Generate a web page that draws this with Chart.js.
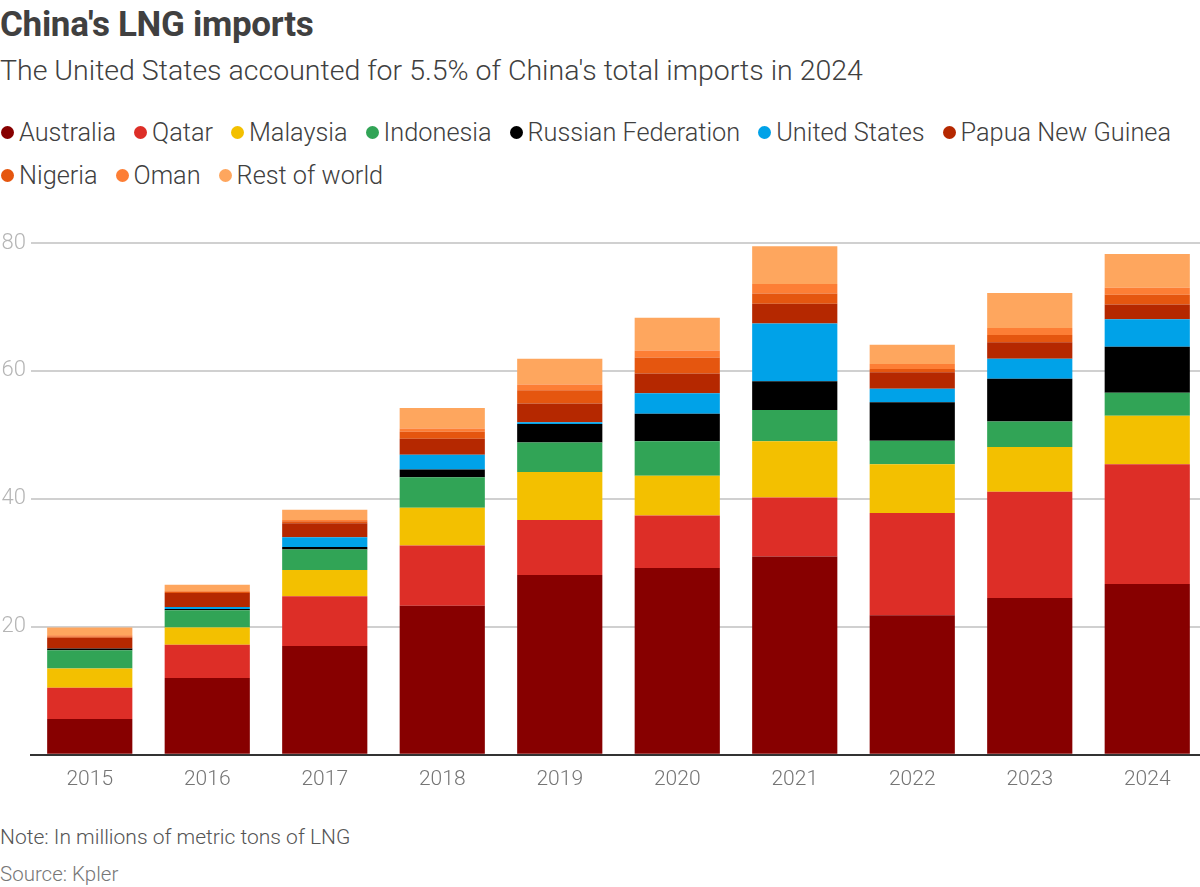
<!DOCTYPE html>
<html>
<head>
<meta charset="utf-8">
<script src="https://cdn.jsdelivr.net/npm/chart.js@4"></script>
<style>
  html, body { margin: 0; padding: 0; background: #fff; overflow: hidden; }
  body { width: 1200px; height: 887px; position: relative; font-family: Roboto, sans-serif; color: #404040; }
  h1 { position: absolute; left: 0; top: 4px; margin: 0; font-size: 35px; font-weight: 700; letter-spacing: -0.3px; }
  .sub { position: absolute; left: 0; top: 54px; font-size: 28.5px; font-weight: 300; }
  .legend { position: absolute; left: 0; top: 111px; width: 1300px; font-size: 25.3px; font-weight: 300; line-height: 43px; }
  .legend .row { white-space: nowrap; }
  .legend span.item { display: inline-block; margin-right: 17px; white-space: nowrap; }
  .legend i { display: inline-block; width: 13px; height: 13px; border-radius: 50%; margin: 0 5px 0 1px; vertical-align: 2px; }
  .chart-wrap { position: absolute; left: 0; top: 204px; width: 1206px; height: 600px; }
  .note { position: absolute; left: 0; top: 825px; font-size: 21px; color: #555; font-weight: 300; }
  .source { position: absolute; left: 0; top: 862px; font-size: 20.5px; color: #777; font-weight: 300; }
</style>
</head>
<body>
<h1>China's LNG imports</h1>
<div class="sub">The United States accounted for 5.5% of China's total imports in 2024</div>
<div class="legend" id="legend"></div>
<div class="chart-wrap"><canvas id="chart"></canvas></div>
<div class="note">Note: In millions of metric tons of LNG</div>
<div class="source">Source: Kpler</div>
<script>
'use strict';
const years     = ['2015', '2016', '2017', '2018', '2019', '2020', '2021', '2022', '2023', '2024'];
const australia = [5.6, 12.0, 17.0, 23.3, 28.1, 29.2, 31.0, 21.8, 24.5, 26.7];
const qatar     = [4.9, 5.2, 7.8, 9.4, 8.6, 8.2, 9.2, 16.0, 16.6, 18.7];
const malaysia  = [3.0, 2.7, 4.1, 5.9, 7.5, 6.2, 8.8, 7.6, 7.0, 7.6];
const indonesia = [2.85, 2.7, 3.2, 4.8, 4.6, 5.4, 4.9, 3.7, 4.0, 3.6];
const russia    = [0.25, 0.2, 0.4, 1.2, 2.9, 4.3, 4.5, 6.0, 6.7, 7.2];
const usa       = [0.0, 0.3, 1.5, 2.3, 0.3, 3.2, 9.0, 2.1, 3.1, 4.3];
const png       = [1.7, 2.2, 2.2, 2.5, 2.9, 3.1, 3.1, 2.6, 2.6, 2.3];
const nigeria   = [0.2, 0.2, 0.3, 1.1, 2.1, 2.5, 1.6, 0.5, 1.1, 1.5];
const oman      = [0.2, 0.1, 0.2, 0.5, 0.9, 1.1, 1.5, 0.8, 1.1, 1.1];
const rest      = [1.2, 1.0, 1.6, 3.2, 4.0, 5.1, 5.9, 3.0, 5.5, 5.3];
const yTicks    = [20, 40, 60, 80];

const SERIES = [
  { label: 'Australia',          data: australia, color: '#870000' },
  { label: 'Qatar',              data: qatar,     color: '#dd2e27' },
  { label: 'Malaysia',           data: malaysia,  color: '#f3c000' },
  { label: 'Indonesia',          data: indonesia, color: '#31a456' },
  { label: 'Russian Federation', data: russia,    color: '#000000' },
  { label: 'United States',      data: usa,       color: '#00a2e8' },
  { label: 'Papua New Guinea',   data: png,       color: '#b52800' },
  { label: 'Nigeria',            data: nigeria,   color: '#e5560f' },
  { label: 'Oman',               data: oman,      color: '#fd7e35' },
  { label: 'Rest of world',      data: rest,      color: '#fea65e' },
];

// html legend, two rows like the original
const legendItem = s => `<span class="item"><i style="background:${s.color}"></i>${s.label}</span>`;
document.getElementById('legend').innerHTML =
  `<div class="row">${SERIES.slice(0, 7).map(legendItem).join('')}</div>` +
  `<div class="row">${SERIES.slice(7).map(legendItem).join('')}</div>`;

new Chart(document.getElementById('chart'), {
  type: 'bar',
  data: {
    labels: years,
    datasets: SERIES.map(s => ({
      label: s.label,
      data: s.data,
      backgroundColor: s.color,
      borderWidth: 0,
      categoryPercentage: 1,
      barPercentage: 0.725,
    })),
  },
  options: {
    responsive: true, maintainAspectRatio: false,
    animation: false,
    layout: { padding: { top: 39, right: 0, left: 0, bottom: 0 } },
    plugins: { legend: { display: false }, tooltip: { enabled: false } },
    scales: {
      x: {
        stacked: true,
        grid: { display: false, drawTicks: false },
        border: { display: true, color: '#333', width: 2 },
        ticks: { color: '#757575', font: { family: 'Roboto', size: 21, weight: 300 }, padding: 12 },
      },
      y: {
        stacked: true,
        min: 0, max: 80,
        afterBuildTicks: axis => { axis.ticks = [0, ...yTicks].map(v => ({ value: v })); },
        afterFit: axis => { axis.width = 31; },
        grid: {
          drawTicks: false,
          color: ctx => ctx.tick && ctx.tick.value === 0 ? 'rgba(0,0,0,0)' : '#d0d0d0',
          lineWidth: 2,
        },
        border: { display: false },
        ticks: {
          color: '#b5b5b5',
          font: { family: 'Roboto', size: 22, weight: 300 },
          padding: 5,
          callback: v => v === 0 ? '' : v,
        },
      },
    },
  },
});
</script>
</body>
</html>
